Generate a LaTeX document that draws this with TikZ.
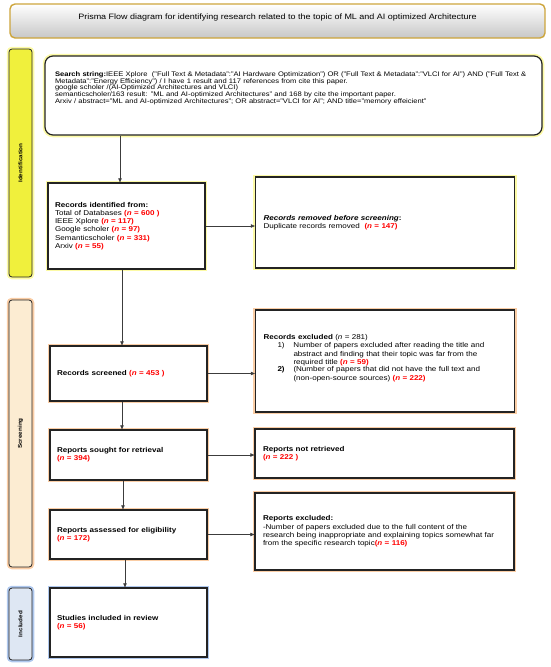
\documentclass[tikz,border=0pt]{standalone}
\usepackage{fontspec}
\setmainfont[FakeStretch=1.15]{Liberation Sans}
\usetikzlibrary{arrows.meta}

\definecolor{boxline}{RGB}{35,35,35}
\definecolor{arrowc}{RGB}{60,60,60}
\definecolor{nred}{RGB}{255,0,0}
\definecolor{idfill}{RGB}{240,240,60}
\definecolor{idglowc}{RGB}{252,250,165}
\definecolor{scfill}{RGB}{252,236,210}
\definecolor{scglowc}{RGB}{250,205,165}
\definecolor{infill}{RGB}{222,231,243}
\definecolor{inglowc}{RGB}{175,200,238}
\definecolor{titleline}{RGB}{205,165,60}

\newcommand{\nval}[1]{\textcolor{nred}{\textbf{(\textit{n} = #1)}}}

\begin{document}
\begin{tikzpicture}[x=1pt,y=-1pt,
  box/.style={draw=boxline, line width=1.2pt, fill=white, align=left, inner ysep=0pt,
    font=\fontsize{7}{8.3}\selectfont},
  leftbox/.style={box, text width=143pt, inner xsep=7pt},
  rightbox/.style={box, text width=243pt, inner xsep=8pt},
  idglow/.style={preaction={draw=idglowc, line width=4.5pt}},
  scglow/.style={preaction={draw=scglowc, line width=4.5pt}},
  inglow/.style={preaction={draw=inglowc, line width=4.5pt}},
  side/.style={draw=boxline, line width=0.8pt, rounded corners=3pt, rotate=90,
    minimum height=23pt, inner sep=0pt, font=\fontsize{5.5}{6}\selectfont\bfseries},
  arr/.style={draw=arrowc, line width=0.6pt, -{Triangle[length=4pt,width=3.4pt]}}
]
\useasboundingbox (0,0) rectangle (550,667);

% title
\node[draw=titleline, line width=1.4pt, rounded corners=5pt, top color=white, bottom color=black!22,
  minimum width=535pt, text height=10pt, text depth=14pt, inner ysep=5pt,
  font=\fontsize{7.8}{9}\selectfont] (title) at (277.5,21)
  {Prisma Flow diagram for identifying research related to the topic of ML and AI optimized Architecture};

% phases
\node[side, idglow, fill=idfill, minimum width=228pt] (idphase) at (20.5,163) {Identification};
\node[side, scglow, fill=scfill, minimum width=267pt] (scphase) at (20.5,433.5) {Screening};
\node[side, inglow, fill=infill, minimum width=72pt] (inphase) at (20.5,624) {Included};

% identification
\node[box, idglow, rounded corners=8pt, text width=477pt, inner xsep=10pt, minimum height=79pt,
  font=\fontsize{6.6}{6.8}\selectfont] (search) at (293.5,95.5)
  {\textbf{Search string:}IEEE Xplore \ ("Full Text \& Metadata":"AI Hardware Optimization") OR ("Full Text \& Metadata":"VLCI for AI") AND ("Full Text \&\\
  Metadata":"Energy Efficiency") / I have 1 result and 117 references from cite this paper.\\
  google scholer /(AI-Optimized Architectures and VLCI)\\
  semanticscholer/163 result: "ML and AI-optimized Architectures" and 168 by cite the important paper.\\
  Arxiv / abstract="ML and AI-optimized Architectures"; OR abstract="VLCI for AI"; AND title="memory effeicient"\\[9pt]\mbox{}};

\node[leftbox, idglow, minimum height=86pt] (identified) at (126.5,226)
  {\textbf{Records identified from:}\\
  Total of Databases \nval{600 }\\
  IEEE Xplore \nval{117}\\
  Google scholer \nval{97}\\
  Semanticscholer \nval{331}\\
  Arxiv \nval{55}};

\node[rightbox, idglow, minimum height=91pt] (removed) at (385,222.5)
  {\textbf{\textit{Records removed before screening}:}\\
  Duplicate records removed \ \nval{147}};

% screening
\node[leftbox, scglow, minimum height=55pt] (screened) at (128.5,373.5)
  {\textbf{Records screened} \nval{453 }};

\node[rightbox, scglow, minimum height=102pt] (excluded) at (385,361)
  {\textbf{Records excluded} (\textit{n} = 281)\\
  \hspace*{14pt}\makebox[16pt][l]{1)}\parbox[t]{208pt}{Number of papers excluded after reading the title and\\
  abstract and finding that their topic was far from the\\
  required title \nval{59}}\\
  \hspace*{14pt}\makebox[16pt][l]{\textbf{2)}}\parbox[t]{208pt}{(Number of papers that did not have the full text and\\
  (non-open-source sources) \nval{222}}\\[5pt]\mbox{}};

\node[leftbox, scglow, minimum height=50pt] (sought) at (128.5,455)
  {\textbf{Reports sought for retrieval}\\
  \nval{394}};

\node[rightbox, scglow, minimum height=49pt] (notretrieved) at (384.5,453.5)
  {\textbf{Reports not retrieved}\\
  \nval{222 }};

\node[leftbox, scglow, minimum height=49pt] (assessed) at (128.5,534.5)
  {\textbf{Reports assessed for eligibility}\\
  \nval{172}};

\node[rightbox, scglow, minimum height=77pt] (repexcluded) at (384.5,531.5)
  {\textbf{Reports excluded:}\\
  -Number of papers excluded due to the full content of the\\
  research being inappropriate and explaining topics somewhat far\\
  from the specific research topic\nval{116}};

% included
\node[leftbox, inglow, minimum height=69pt] (studies) at (128.5,622.5)
  {\textbf{Studies included in review}\\
  \nval{56}};

% arrows
\draw[arr] (search.south -| 120,0) -- (identified.north -| 120,0);
\draw[arr] (identified.east) -- (identified.east -| removed.west);
\draw[arr] (identified.south -| 122,0) -- (screened.north -| 122,0);
\draw[arr] (screened.east) -- (screened.east -| excluded.west);
\draw[arr] (screened.south -| 122,0) -- (sought.north -| 122,0);
\draw[arr] (sought.east) -- (sought.east -| notretrieved.west);
\draw[arr] (sought.south -| 123,0) -- (assessed.north -| 123,0);
\draw[arr] (assessed.east) -- (assessed.east -| repexcluded.west);
\draw[arr] (assessed.south -| 125,0) -- (studies.north -| 125,0);
\end{tikzpicture}
\end{document}
